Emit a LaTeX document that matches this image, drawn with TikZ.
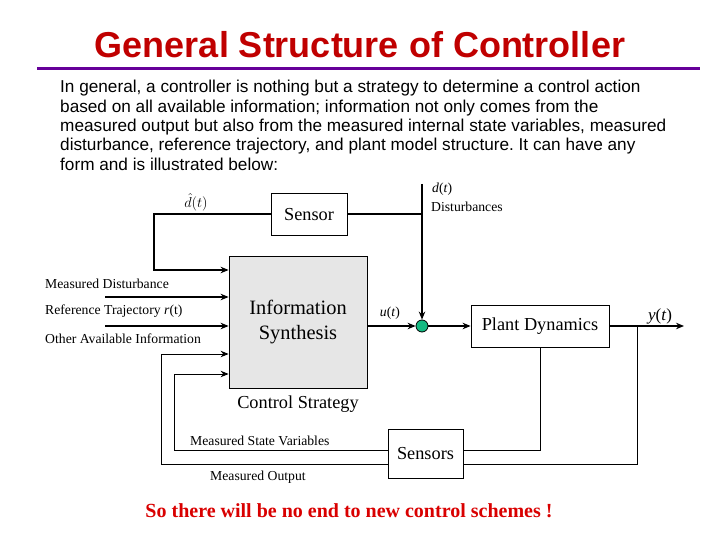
\documentclass[tikz,border=0pt]{standalone}
\usepackage{fontspec}
\setmainfont{Liberation Serif}
\newfontfamily\arialfont{Liberation Sans}
\usetikzlibrary{arrows.meta}
\definecolor{titlered}{RGB}{192,0,0}
\definecolor{rulepurple}{RGB}{102,0,153}
\definecolor{sumgreen}{RGB}{20,185,130}
\definecolor{boxgray}{RGB}{230,230,230}
\frenchspacing
\begin{document}
\begin{tikzpicture}[x=1pt,y=-1pt,>={Stealth[length=8pt,width=6.5pt]},
    blk/.style={draw,line width=0.8pt,inner sep=0pt,font=\fontsize{18.3}{18.3}\selectfont},
    sig/.style={line width=2pt},
    fb/.style={line width=0.9pt},
    lbl/.style={font=\fontsize{13.7}{13.7}\selectfont,inner sep=0pt}]
  \useasboundingbox (0,0) rectangle (720,540);
  % heading and text
  \node[font=\arialfont\bfseries\fontsize{36}{36}\selectfont,text=titlered] (title) at (360,45) {General Structure of Controller};
  \draw[rulepurple,line width=3pt] (37,69) -- (700,69);
  \node[anchor=north west,inner sep=0pt,align=left,font=\arialfont\fontsize{17.2}{19.4}\selectfont] (txt) at (60,80)
    {In general, a controller is nothing but a strategy to determine a control action\\
     based on all available information; information not only comes from the\\
     measured output but also from the measured internal state variables, measured\\
     disturbance, reference trajectory, and plant model structure. It can have any\\
     form and is illustrated below:};
  % blocks
  \node[blk,minimum width=76pt,minimum height=42pt] (snsr) at (309,214.5) {Sensor};
  \node[blk,fill=boxgray,minimum width=138pt,minimum height=132pt,align=center,font=\fontsize{20.4}{25}\selectfont] (info) at (298,322) {Information\\Synthesis};
  \node[blk,minimum width=138pt,minimum height=42pt] (plant) at (540,326) {Plant Dynamics};
  \node[blk,minimum width=75pt,minimum height=49pt] (sens) at (425.5,453.5) {Sensors};
  \node[circle,draw,fill=sumgreen,line width=0.8pt,minimum size=12pt,inner sep=0pt] (sum) at (422,326) {};
  % free ends
  \coordinate (dh) at (154,270);
  \coordinate (md) at (105,297);
  \coordinate (rt) at (105,326);
  \coordinate (dist) at (422,184);
  \coordinate (br) at (637,326);
  \coordinate (yout) at (684,326);
  \coordinate (msv) at (174,450);
  \coordinate (mo) at (161,464);
  % signals
  \draw[sig,->] (snsr.west) -| (dh) -- (dh -| info.west);
  \draw[sig] (snsr.east) -- (snsr.east -| sum);
  \draw[sig,->] (dist) -- (sum.north);
  \draw[sig,->] (md) -- (md -| info.west);
  \draw[sig,->] (rt) -- (rt -| info.west);
  \draw[sig,->] (info.east |- sum) -- (sum.west);
  \draw[sig,->] (sum.east) -- (plant.west);
  \draw[sig,->] (plant.east) -- (yout);
  % feedback loops
  \draw[fb] (plant.south) |- (sens.east |- msv);
  \draw[fb] (br) |- (sens.east |- mo);
  \draw[fb,->] (sens.west |- msv) -- (msv) |- (info.west |- 0,374);
  \draw[fb,->] (sens.west |- mo) -- (mo) |- (info.west |- 0,354);
  % labels
  \node[lbl,anchor=south] (dhl) at (196,211) {$\hat{d}(t)$};
  \node[lbl,anchor=west] (dl) at (432,189) {\textit{d}(\textit{t})};
  \node[lbl,anchor=west] (distl) at (431,207) {Disturbances};
  \node[lbl,anchor=west] (mdl) at (45,284) {Measured Disturbance};
  \node[lbl,anchor=west] (rtl) at (45,311) {Reference Trajectory \textit{r}(t)};
  \node[lbl,anchor=west] (oai) at (45,339) {Other Available Information};
  \node[lbl] (ul) at (390,313) {\textit{u}(\textit{t})};
  \node[lbl,font=\fontsize{17}{17}\selectfont] (yl) at (660,316) {\textit{y}(\textit{t})};
  \node[font=\fontsize{18.3}{18.3}\selectfont,inner sep=0pt] (cs) at (298,404) {Control Strategy};
  \node[lbl,anchor=west] (msvl) at (190,441) {Measured State Variables};
  \node[lbl,anchor=west] (mol) at (210,477) {Measured Output};
  \node[font=\bfseries\fontsize{20}{20}\selectfont,text=red!85!black,inner sep=0pt] (note) at (349,511) {So there will be no end to new control schemes !};
\end{tikzpicture}
\end{document}
